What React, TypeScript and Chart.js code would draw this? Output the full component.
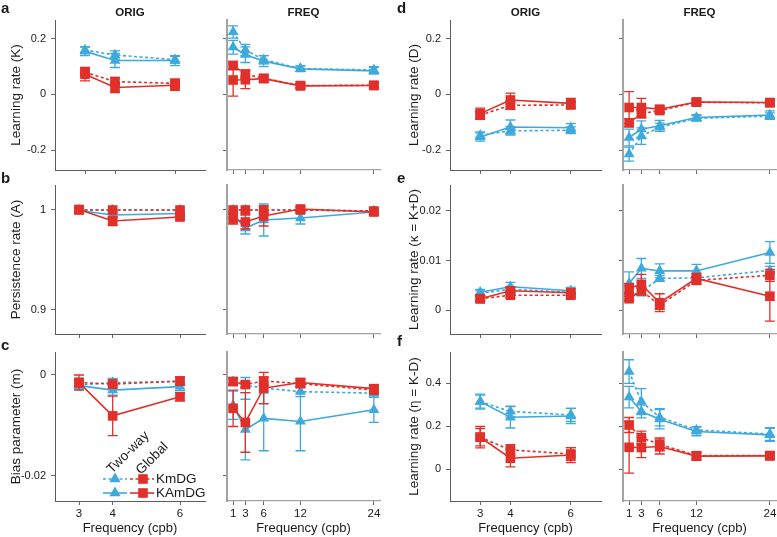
import React, { useEffect, useRef } from 'react';
import { Chart, registerables } from 'chart.js';

Chart.register(...registerables);

const FONT = "'Liberation Sans', Arial, Helvetica, sans-serif";
const BLUE = '#3fa9dd';
const RED = '#e1302a';
const TEXT = '#1a1a1a';
const DASH = [3, 2.5];

// ---------- categories / labels ----------
const X_ORIG = [3, 4, 6];
const X_FREQ = [1, 3, 6, 12, 24];
const COLUMN_TITLES = ['ORIG', 'FREQ', 'ORIG', 'FREQ'];
const PANEL_LETTERS = ['a', 'b', 'c', 'd', 'e', 'f'];
const LEGEND_MODELS = ['KmDG', 'KAmDG'];
const LEGEND_FITS = ['Two-way', 'Global'];
const X_TITLE = 'Frequency (cpb)';

const Y_TICKS_K = [-0.2, 0, 0.2];
const Y_LABELS_K = ['-0.2', '0', '0.2'];
const Y_TICKS_A = [0.9, 1];
const Y_LABELS_A = ['0.9', '1'];
const Y_TICKS_M = [-0.02, 0];
const Y_LABELS_M = ['-0.02', '0'];
const Y_TICKS_D = [-0.2, 0, 0.2];
const Y_LABELS_D = ['-0.2', '0', '0.2'];
const Y_TICKS_KAPPA = [0, 0.01, 0.02];
const Y_LABELS_KAPPA = ['0', '0.01', '0.02'];
const Y_TICKS_ETA = [0, 0.2, 0.4];
const Y_LABELS_ETA = ['0', '0.2', '0.4'];

// ---------- a: learning rate K ----------
const K_ORIG_TWO_KmDG = [0.16, 0.142, 0.125];
const K_ORIG_TWO_KmDG_ERR = [0.012, 0.015, 0.012];
const K_ORIG_TWO_KAmDG = [0.155, 0.122, 0.122];
const K_ORIG_TWO_KAmDG_ERR = [0.015, 0.025, 0.018];
const K_ORIG_GLB_KmDG = [0.08, 0.046, 0.04];
const K_ORIG_GLB_KmDG_ERR = [0.015, 0.015, 0.015];
const K_ORIG_GLB_KAmDG = [0.073, 0.025, 0.033];
const K_ORIG_GLB_KAmDG_ERR = [0.024, 0.018, 0.018];

const K_FREQ_TWO_KmDG = [0.225, 0.16, 0.125, 0.093, 0.088];
const K_FREQ_TWO_KmDG_ERR = [0.022, 0.02, 0.015, 0.01, 0.012];
const K_FREQ_TWO_KAmDG = [0.17, 0.143, 0.12, 0.092, 0.085];
const K_FREQ_TWO_KAmDG_ERR = [0.025, 0.028, 0.02, 0.01, 0.012];
const K_FREQ_GLB_KmDG = [0.104, 0.073, 0.058, 0.032, 0.033];
const K_FREQ_GLB_KmDG_ERR = [0.015, 0.015, 0.012, 0.008, 0.008];
const K_FREQ_GLB_KAmDG = [0.052, 0.053, 0.057, 0.031, 0.032];
const K_FREQ_GLB_KAmDG_ERR = [0.058, 0.032, 0.012, 0.008, 0.008];

// ---------- b: persistence rate A ----------
const A_ORIG_TWO_KmDG = [1.0, 1.0, 1.0];
const A_ORIG_TWO_KmDG_ERR = [0, 0, 0];
const A_ORIG_TWO_KAmDG = [0.9995, 0.995, 0.9965];
const A_ORIG_TWO_KAmDG_ERR = [0.002, 0.003, 0.003];
const A_ORIG_GLB_KmDG = [1.0, 1.0, 1.0];
const A_ORIG_GLB_KmDG_ERR = [0, 0, 0];
const A_ORIG_GLB_KAmDG = [1.0005, 0.989, 0.993];
const A_ORIG_GLB_KAmDG_ERR = [0.002, 0.0045, 0.0025];

const A_FREQ_TWO_KmDG = [1.0, 1.0, 1.0, 1.0, 0.999];
const A_FREQ_TWO_KmDG_ERR = [0, 0, 0, 0, 0];
const A_FREQ_TWO_KAmDG = [0.995, 0.982, 0.99, 0.992, 0.998];
const A_FREQ_TWO_KAmDG_ERR = [0.004, 0.006, 0.016, 0.006, 0.003];
const A_FREQ_GLB_KmDG = [1.0, 1.0, 1.0, 1.0, 0.999];
const A_FREQ_GLB_KmDG_ERR = [0, 0, 0, 0, 0];
const A_FREQ_GLB_KAmDG = [0.991, 0.988, 0.994, 1.001, 0.998];
const A_FREQ_GLB_KAmDG_ERR = [0.005, 0.007, 0.01, 0.002, 0.003];

// ---------- c: bias parameter m ----------
const M_ORIG_TWO_KmDG = [-0.002, -0.0015, -0.0013];
const M_ORIG_TWO_KmDG_ERR = [0.0008, 0.0008, 0.0008];
const M_ORIG_TWO_KAmDG = [-0.0021, -0.003, -0.0023];
const M_ORIG_TWO_KAmDG_ERR = [0.0008, 0.001, 0.0008];
const M_ORIG_GLB_KmDG = [-0.0015, -0.0018, -0.0012];
const M_ORIG_GLB_KmDG_ERR = [0.0008, 0.0008, 0.0008];
const M_ORIG_GLB_KAmDG = [-0.0015, -0.0081, -0.0043];
const M_ORIG_GLB_KAmDG_ERR = [0.0015, 0.0039, 0.0008];

const M_FREQ_TWO_KmDG = [-0.0013, -0.002, -0.0026, -0.0033, -0.0036];
const M_FREQ_TWO_KmDG_ERR = [0.0008, 0.0015, 0.001, 0.001, 0.0008];
const M_FREQ_TWO_KAmDG = [-0.006, -0.0108, -0.0086, -0.0092, -0.0069];
const M_FREQ_TWO_KAmDG_ERR = [0.0028, 0.006, 0.0064, 0.0058, 0.0025];
const M_FREQ_GLB_KmDG = [-0.0013, -0.0019, -0.0012, -0.0017, -0.003];
const M_FREQ_GLB_KmDG_ERR = [0.0006, 0.0006, 0.0008, 0.0008, 0.0008];
const M_FREQ_GLB_KAmDG = [-0.0066, -0.0094, -0.0026, -0.0015, -0.0027];
const M_FREQ_GLB_KAmDG_ERR = [0.0036, 0.0059, 0.0031, 0.0008, 0.0008];

// ---------- d: learning rate D ----------
const D_ORIG_TWO_KmDG = [-0.147, -0.131, -0.129];
const D_ORIG_TWO_KmDG_ERR = [0.012, 0.015, 0.012];
const D_ORIG_TWO_KAmDG = [-0.153, -0.117, -0.12];
const D_ORIG_TWO_KAmDG_ERR = [0.015, 0.025, 0.015];
const D_ORIG_GLB_KmDG = [-0.075, -0.039, -0.038];
const D_ORIG_GLB_KmDG_ERR = [0.015, 0.015, 0.012];
const D_ORIG_GLB_KAmDG = [-0.069, -0.02, -0.032];
const D_ORIG_GLB_KAmDG_ERR = [0.02, 0.025, 0.018];

const D_FREQ_TWO_KmDG = [-0.215, -0.15, -0.118, -0.086, -0.078];
const D_FREQ_TWO_KmDG_ERR = [0.025, 0.03, 0.015, 0.01, 0.012];
const D_FREQ_TWO_KAmDG = [-0.155, -0.125, -0.113, -0.083, -0.074];
const D_FREQ_TWO_KAmDG_ERR = [0.03, 0.03, 0.02, 0.01, 0.015];
const D_FREQ_GLB_KmDG = [-0.102, -0.069, -0.058, -0.028, -0.03];
const D_FREQ_GLB_KmDG_ERR = [0.015, 0.015, 0.01, 0.008, 0.008];
const D_FREQ_GLB_KAmDG = [-0.047, -0.047, -0.053, -0.027, -0.029];
const D_FREQ_GLB_KAmDG_ERR = [0.057, 0.033, 0.012, 0.01, 0.01];

// ---------- e: learning rate kappa = K+D ----------
const KAPPA_ORIG_TWO_KmDG = [0.0034, 0.0042, 0.0036];
const KAPPA_ORIG_TWO_KmDG_ERR = [0.0005, 0.0006, 0.0006];
const KAPPA_ORIG_TWO_KAmDG = [0.0036, 0.0047, 0.0039];
const KAPPA_ORIG_TWO_KAmDG_ERR = [0.0006, 0.0009, 0.0007];
const KAPPA_ORIG_GLB_KmDG = [0.0023, 0.003, 0.003];
const KAPPA_ORIG_GLB_KmDG_ERR = [0.0004, 0.0005, 0.0006];
const KAPPA_ORIG_GLB_KAmDG = [0.0023, 0.0039, 0.0035];
const KAPPA_ORIG_GLB_KAmDG_ERR = [0.0005, 0.0007, 0.0008];

const KAPPA_FREQ_TWO_KmDG = [0.0028, 0.0037, 0.0064, 0.0065, 0.008];
const KAPPA_FREQ_TWO_KmDG_ERR = [0.0008, 0.0008, 0.0006, 0.0006, 0.0008];
const KAPPA_FREQ_TWO_KAmDG = [0.0054, 0.0084, 0.0079, 0.0079, 0.0116];
const KAPPA_FREQ_TWO_KAmDG_ERR = [0.0023, 0.002, 0.0014, 0.0013, 0.0022];
const KAPPA_FREQ_GLB_KmDG = [0.0023, 0.0039, 0.001, 0.006, 0.007];
const KAPPA_FREQ_GLB_KmDG_ERR = [0.0005, 0.0008, 0.0008, 0.0008, 0.0012];
const KAPPA_FREQ_GLB_KAmDG = [0.0044, 0.0052, 0.0015, 0.0064, 0.0028];
const KAPPA_FREQ_GLB_KAmDG_ERR = [0.001, 0.002, 0.0018, 0.001, 0.005];

// ---------- f: learning rate eta = K-D ----------
const ETA_ORIG_TWO_KmDG = [0.314, 0.268, 0.252];
const ETA_ORIG_TWO_KmDG_ERR = [0.03, 0.025, 0.03];
const ETA_ORIG_TWO_KAmDG = [0.314, 0.241, 0.247];
const ETA_ORIG_TWO_KAmDG_ERR = [0.035, 0.05, 0.035];
const ETA_ORIG_GLB_KmDG = [0.148, 0.089, 0.07];
const ETA_ORIG_GLB_KmDG_ERR = [0.04, 0.025, 0.03];
const ETA_ORIG_GLB_KAmDG = [0.148, 0.05, 0.065];
const ETA_ORIG_GLB_KAmDG_ERR = [0.05, 0.04, 0.035];

const ETA_FREQ_TWO_KmDG = [0.454, 0.314, 0.241, 0.182, 0.163];
const ETA_FREQ_TWO_KmDG_ERR = [0.055, 0.06, 0.04, 0.015, 0.03];
const ETA_FREQ_TWO_KAmDG = [0.335, 0.268, 0.232, 0.175, 0.159];
const ETA_FREQ_TWO_KAmDG_ERR = [0.05, 0.03, 0.045, 0.02, 0.03];
const ETA_FREQ_GLB_KmDG = [0.205, 0.146, 0.115, 0.062, 0.063];
const ETA_FREQ_GLB_KmDG_ERR = [0.035, 0.03, 0.03, 0.015, 0.015];
const ETA_FREQ_GLB_KAmDG = [0.101, 0.1, 0.105, 0.06, 0.061];
const ETA_FREQ_GLB_KAmDG_ERR = [0.12, 0.047, 0.035, 0.02, 0.015];

// ---------- layout ----------
const COLS = [
  { canvasLeft: 0, chartLeft: 55, chartRight: 205, titlePad: 8.4 },
  { canvasLeft: 215, chartLeft: 227, chartRight: 380, titlePad: 0 },
  { canvasLeft: 392, chartLeft: 450, chartRight: 601, titlePad: 13.9 },
  { canvasLeft: 611, chartLeft: 623, chartRight: 776, titlePad: 0 },
];
const ROWS = [
  { chartTop: 20, chartBottom: 170, xh: 6, padBottom: 8 },
  { chartTop: 185, chartBottom: 334, xh: 6, padBottom: 8 },
  { chartTop: 352, chartBottom: 501, xh: 36, padBottom: 0 },
];
const PAD_TOP = 14;
const PAD_RIGHT = 10;

type Series = [number[], number[]];
type Spec = {
  row: number; col: number; xs: number[]; xMin: number; xMax: number;
  yMin: number; yMax: number; yTicks: number[]; yLabels: string[] | null;
  yTitle: string | null; series: Series[]; legend?: boolean;
};

const SPECS: Spec[] = [
  { row: 0, col: 0, xs: X_ORIG, xMin: 2, xMax: 7, yMin: -0.272, yMax: 0.268, yTicks: Y_TICKS_K, yLabels: Y_LABELS_K, yTitle: 'Learning rate (K)',
    series: [[K_ORIG_TWO_KmDG, K_ORIG_TWO_KmDG_ERR], [K_ORIG_TWO_KAmDG, K_ORIG_TWO_KAmDG_ERR], [K_ORIG_GLB_KmDG, K_ORIG_GLB_KmDG_ERR], [K_ORIG_GLB_KAmDG, K_ORIG_GLB_KAmDG_ERR]] },
  { row: 0, col: 1, xs: X_FREQ, xMin: 0, xMax: 25, yMin: -0.272, yMax: 0.268, yTicks: Y_TICKS_K, yLabels: null, yTitle: null,
    series: [[K_FREQ_TWO_KmDG, K_FREQ_TWO_KmDG_ERR], [K_FREQ_TWO_KAmDG, K_FREQ_TWO_KAmDG_ERR], [K_FREQ_GLB_KmDG, K_FREQ_GLB_KmDG_ERR], [K_FREQ_GLB_KAmDG, K_FREQ_GLB_KAmDG_ERR]] },
  { row: 1, col: 0, xs: X_ORIG, xMin: 2.287, xMax: 6.742, yMin: 0.876, yMax: 1.025, yTicks: Y_TICKS_A, yLabels: Y_LABELS_A, yTitle: 'Persistence rate (A)',
    series: [[A_ORIG_TWO_KmDG, A_ORIG_TWO_KmDG_ERR], [A_ORIG_TWO_KAmDG, A_ORIG_TWO_KAmDG_ERR], [A_ORIG_GLB_KmDG, A_ORIG_GLB_KmDG_ERR], [A_ORIG_GLB_KAmDG, A_ORIG_GLB_KAmDG_ERR]] },
  { row: 1, col: 1, xs: X_FREQ, xMin: 0, xMax: 25, yMin: 0.876, yMax: 1.025, yTicks: Y_TICKS_A, yLabels: null, yTitle: null,
    series: [[A_FREQ_TWO_KmDG, A_FREQ_TWO_KmDG_ERR], [A_FREQ_TWO_KAmDG, A_FREQ_TWO_KAmDG_ERR], [A_FREQ_GLB_KmDG, A_FREQ_GLB_KmDG_ERR], [A_FREQ_GLB_KAmDG, A_FREQ_GLB_KAmDG_ERR]] },
  { row: 2, col: 0, xs: X_ORIG, xMin: 2.287, xMax: 6.742, yMin: -0.02495, yMax: 0.00455, yTicks: Y_TICKS_M, yLabels: Y_LABELS_M, yTitle: 'Bias parameter (m)', legend: true,
    series: [[M_ORIG_TWO_KmDG, M_ORIG_TWO_KmDG_ERR], [M_ORIG_TWO_KAmDG, M_ORIG_TWO_KAmDG_ERR], [M_ORIG_GLB_KmDG, M_ORIG_GLB_KmDG_ERR], [M_ORIG_GLB_KAmDG, M_ORIG_GLB_KAmDG_ERR]] },
  { row: 2, col: 1, xs: X_FREQ, xMin: 0, xMax: 25, yMin: -0.02495, yMax: 0.00455, yTicks: Y_TICKS_M, yLabels: null, yTitle: null,
    series: [[M_FREQ_TWO_KmDG, M_FREQ_TWO_KmDG_ERR], [M_FREQ_TWO_KAmDG, M_FREQ_TWO_KAmDG_ERR], [M_FREQ_GLB_KmDG, M_FREQ_GLB_KmDG_ERR], [M_FREQ_GLB_KAmDG, M_FREQ_GLB_KAmDG_ERR]] },
  { row: 0, col: 2, xs: X_ORIG, xMin: 2, xMax: 7, yMin: -0.272, yMax: 0.268, yTicks: Y_TICKS_D, yLabels: Y_LABELS_D, yTitle: 'Learning rate (D)',
    series: [[D_ORIG_TWO_KmDG, D_ORIG_TWO_KmDG_ERR], [D_ORIG_TWO_KAmDG, D_ORIG_TWO_KAmDG_ERR], [D_ORIG_GLB_KmDG, D_ORIG_GLB_KmDG_ERR], [D_ORIG_GLB_KAmDG, D_ORIG_GLB_KAmDG_ERR]] },
  { row: 0, col: 3, xs: X_FREQ, xMin: 0, xMax: 25, yMin: -0.272, yMax: 0.268, yTicks: Y_TICKS_D, yLabels: null, yTitle: null,
    series: [[D_FREQ_TWO_KmDG, D_FREQ_TWO_KmDG_ERR], [D_FREQ_TWO_KAmDG, D_FREQ_TWO_KAmDG_ERR], [D_FREQ_GLB_KmDG, D_FREQ_GLB_KmDG_ERR], [D_FREQ_GLB_KAmDG, D_FREQ_GLB_KAmDG_ERR]] },
  { row: 1, col: 2, xs: X_ORIG, xMin: 2, xMax: 7, yMin: -0.0048, yMax: 0.0252, yTicks: Y_TICKS_KAPPA, yLabels: Y_LABELS_KAPPA, yTitle: 'Learning rate (\u03BA = K+D)',
    series: [[KAPPA_ORIG_TWO_KmDG, KAPPA_ORIG_TWO_KmDG_ERR], [KAPPA_ORIG_TWO_KAmDG, KAPPA_ORIG_TWO_KAmDG_ERR], [KAPPA_ORIG_GLB_KmDG, KAPPA_ORIG_GLB_KmDG_ERR], [KAPPA_ORIG_GLB_KAmDG, KAPPA_ORIG_GLB_KAmDG_ERR]] },
  { row: 1, col: 3, xs: X_FREQ, xMin: 0, xMax: 25, yMin: -0.0048, yMax: 0.0252, yTicks: Y_TICKS_KAPPA, yLabels: null, yTitle: null,
    series: [[KAPPA_FREQ_TWO_KmDG, KAPPA_FREQ_TWO_KmDG_ERR], [KAPPA_FREQ_TWO_KAmDG, KAPPA_FREQ_TWO_KAmDG_ERR], [KAPPA_FREQ_GLB_KmDG, KAPPA_FREQ_GLB_KmDG_ERR], [KAPPA_FREQ_GLB_KAmDG, KAPPA_FREQ_GLB_KAmDG_ERR]] },
  { row: 2, col: 2, xs: X_ORIG, xMin: 2, xMax: 7, yMin: -0.149, yMax: 0.545, yTicks: Y_TICKS_ETA, yLabels: Y_LABELS_ETA, yTitle: 'Learning rate (\u03B7 = K-D)',
    series: [[ETA_ORIG_TWO_KmDG, ETA_ORIG_TWO_KmDG_ERR], [ETA_ORIG_TWO_KAmDG, ETA_ORIG_TWO_KAmDG_ERR], [ETA_ORIG_GLB_KmDG, ETA_ORIG_GLB_KmDG_ERR], [ETA_ORIG_GLB_KAmDG, ETA_ORIG_GLB_KAmDG_ERR]] },
  { row: 2, col: 3, xs: X_FREQ, xMin: 0, xMax: 25, yMin: -0.149, yMax: 0.545, yTicks: Y_TICKS_ETA, yLabels: null, yTitle: null,
    series: [[ETA_FREQ_TWO_KmDG, ETA_FREQ_TWO_KmDG_ERR], [ETA_FREQ_TWO_KAmDG, ETA_FREQ_TWO_KAmDG_ERR], [ETA_FREQ_GLB_KmDG, ETA_FREQ_GLB_KmDG_ERR], [ETA_FREQ_GLB_KAmDG, ETA_FREQ_GLB_KAmDG_ERR]] },
];

const CAP = 5;

const errorBarPlugin = {
  id: 'errorBars',
  beforeDatasetDraw(chart: any, args: any) {
    const ds: any = chart.data.datasets[args.index];
    if (!ds.err) return;
    const ys = chart.scales.y;
    const ctx = chart.ctx;
    ctx.save();
    ctx.strokeStyle = ds.borderColor;
    ctx.lineWidth = 1.3;
    ctx.setLineDash([]);
    args.meta.data.forEach((pt: any, i: number) => {
      const e = ds.err[i];
      if (!e) return;
      const v = ds.data[i].y;
      const x = pt.x;
      const t = ys.getPixelForValue(v + e);
      const b = ys.getPixelForValue(v - e);
      ctx.beginPath();
      ctx.moveTo(x, t); ctx.lineTo(x, b);
      ctx.moveTo(x - CAP, t); ctx.lineTo(x + CAP, t);
      ctx.moveTo(x - CAP, b); ctx.lineTo(x + CAP, b);
      ctx.stroke();
    });
    ctx.restore();
  },
};

function drawTri(ctx: CanvasRenderingContext2D, x: number, y: number, r: number) {
  ctx.beginPath();
  ctx.moveTo(x, y - r);
  ctx.lineTo(x + 0.866 * r, y + 0.5 * r);
  ctx.lineTo(x - 0.866 * r, y + 0.5 * r);
  ctx.closePath();
  ctx.fill();
}
function drawSq(ctx: CanvasRenderingContext2D, x: number, y: number, r: number) {
  const s = r * Math.SQRT1_2;
  ctx.fillRect(x - s, y - s, 2 * s, 2 * s);
}

function Panel({ spec }: { spec: Spec }) {
  const ref = useRef<HTMLCanvasElement>(null);
  const col = COLS[spec.col];
  const row = ROWS[spec.row];
  const left = col.canvasLeft;
  const top = row.chartTop - PAD_TOP;
  const width = col.chartRight + PAD_RIGHT - col.canvasLeft;
  const height = PAD_TOP + (row.chartBottom - row.chartTop) + row.xh + row.padBottom;
  const yw = col.chartLeft - col.canvasLeft;

  useEffect(() => {
    const freq = spec.col % 2 === 1;
    const axisColor = freq ? '#a3a3a3' : '#5c5c5c';
    const axisWidthY = freq ? 2 : 1;
    const axisWidthX = freq ? 1.2 : 1;
    const showX = spec.row === 2;
    const mk = (s: Series, color: string, style: string, dotted: boolean) => ({
      data: spec.xs.map((x, i) => ({ x, y: s[0][i] })),
      err: s[1],
      borderColor: color,
      backgroundColor: color,
      borderWidth: 1.6,
      borderDash: dotted ? DASH : [],
      pointStyle: style,
      pointRadius: style === 'rect' ? 6.8 : 6.3,
      pointBorderWidth: 0,
      pointBackgroundColor: color,
      pointBorderColor: color,
      showLine: true,
      tension: 0,
      fill: false,
      clip: false,
    });
    const datasets = [
      mk(spec.series[3], RED, 'rect', false),
      mk(spec.series[2], RED, 'rect', true),
      mk(spec.series[1], BLUE, 'triangle', false),
      mk(spec.series[0], BLUE, 'triangle', true),
    ];
    const plugins: any[] = [errorBarPlugin];
    if (spec.legend) {
      plugins.push({
        id: 'customLegend',
        afterDraw(chart: any) {
          const ctx: CanvasRenderingContext2D = chart.ctx;
          ctx.save();
          const rowsY = [479, 493];
          LEGEND_MODELS.forEach((name, i) => {
            const y = rowsY[i] - top;
            ctx.lineWidth = 1.6;
            ctx.setLineDash(i === 0 ? DASH : []);
            ctx.strokeStyle = BLUE;
            ctx.beginPath(); ctx.moveTo(103 - left, y); ctx.lineTo(127 - left, y); ctx.stroke();
            ctx.strokeStyle = RED;
            ctx.beginPath(); ctx.moveTo(130 - left, y); ctx.lineTo(154 - left, y); ctx.stroke();
            ctx.setLineDash([]);
            ctx.fillStyle = BLUE; drawTri(ctx, 115 - left, y, 6.5);
            ctx.fillStyle = RED; drawSq(ctx, 143 - left, y, 6.8);
            ctx.fillStyle = TEXT;
            ctx.font = `13.5px ${FONT}`;
            ctx.textAlign = 'left';
            ctx.textBaseline = 'middle';
            ctx.fillText(name, 156 - left, y + 0.5);
          });
          const starts = [[112, 474], [141, 475]];
          LEGEND_FITS.forEach((t, i) => {
            ctx.save();
            ctx.translate(starts[i][0] - left, starts[i][1] - top);
            ctx.rotate(-Math.PI / 4);
            ctx.fillStyle = TEXT;
            ctx.font = `13.5px ${FONT}`;
            ctx.textAlign = 'left';
            ctx.textBaseline = 'alphabetic';
            ctx.fillText(t, 0, 0);
            ctx.restore();
          });
          ctx.restore();
        },
      });
    }
    const chart = new Chart(ref.current as HTMLCanvasElement, {
      type: 'line',
      data: { datasets } as any,
      plugins,
      options: {
        animation: false,
        responsive: false,
        devicePixelRatio: 1,
        events: [],
        layout: { padding: { top: PAD_TOP, right: PAD_RIGHT, bottom: row.padBottom, left: 0 } },
        plugins: { legend: { display: false }, tooltip: { enabled: false } },
        scales: {
          x: {
            type: 'linear',
            min: spec.xMin,
            max: spec.xMax,
            afterBuildTicks: (s: any) => { s.ticks = spec.xs.map((v) => ({ value: v })); },
            afterFit: (s: any) => { s.height = row.xh; },
            ticks: {
              autoSkip: false,
              maxRotation: 0,
              padding: 2,
              color: TEXT,
              font: { family: FONT, size: 11.5 },
              callback: (v: any) => (showX ? String(v) : ''),
            },
            grid: { drawOnChartArea: false, drawTicks: true, tickLength: 4, color: '#666', lineWidth: 1 },
            border: { display: true, color: axisColor, width: axisWidthX },
            title: { display: showX, text: X_TITLE, color: TEXT, font: { family: FONT, size: 13 }, padding: { top: 0, bottom: 1 } },
          },
          y: {
            type: 'linear',
            position: 'left',
            min: spec.yMin,
            max: spec.yMax,
            afterBuildTicks: (s: any) => { s.ticks = spec.yTicks.map((v) => ({ value: v })); },
            afterFit: (s: any) => { s.width = yw; },
            ticks: {
              padding: 5,
              color: TEXT,
              font: { family: FONT, size: 11 },
              callback: (_v: any, i: number) => (spec.yLabels ? spec.yLabels[i] : ''),
            },
            grid: { drawOnChartArea: false, drawTicks: true, tickLength: 4, color: '#666', lineWidth: 1 },
            border: { display: true, color: axisColor, width: axisWidthY },
            title: {
              display: !!spec.yTitle,
              text: spec.yTitle || '',
              color: TEXT,
              font: { family: FONT, size: 13.5 },
              padding: { top: col.titlePad, bottom: 0 },
            },
          },
        },
      } as any,
    });
    return () => chart.destroy();
  }, []);

  return (
    <canvas
      ref={ref}
      width={width}
      height={height}
      style={{ position: 'absolute', left, top, width, height, display: 'block' }}
    />
  );
}

const LETTER_POS = [
  [1, 0], [1, 170], [1, 337], [397, 0], [397, 170], [397, 333],
];
const TITLE_CENTERS = [130, 303.5, 525.5, 699.5];

export default function App() {
  return (
    <div
      style={{
        position: 'absolute', left: 0, top: 0, width: 777, height: 537,
        overflow: 'hidden', background: '#fff', fontFamily: FONT, color: TEXT,
      }}
    >
      {SPECS.map((s, i) => <Panel key={i} spec={s} />)}
      {PANEL_LETTERS.map((l, i) => (
        <div key={'l' + i} style={{ position: 'absolute', left: LETTER_POS[i][0], top: LETTER_POS[i][1], fontSize: 15, lineHeight: '15px', fontWeight: 'bold' }}>{l}</div>
      ))}
      {COLUMN_TITLES.map((t, i) => (
        <div key={'t' + i} style={{ position: 'absolute', left: TITLE_CENTERS[i] - 50, width: 100, top: 6, textAlign: 'center', fontSize: 11.5, lineHeight: '12px', fontWeight: 'bold' }}>{t}</div>
      ))}
    </div>
  );
}
